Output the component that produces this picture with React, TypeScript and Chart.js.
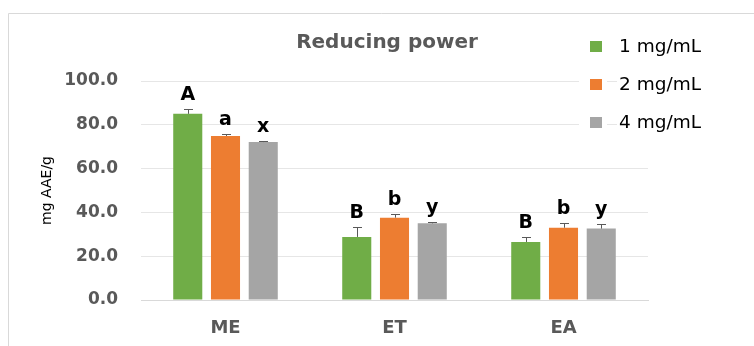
import React, { useEffect, useRef } from "react";
import { Chart, registerables } from "chart.js";

Chart.register(...registerables);

// Extract groups on the x axis
const categories = ["ME", "ET", "EA"];

// One series per concentration
const seriesLabels = ["1 mg/mL", "2 mg/mL", "4 mg/mL"];
const seriesColors = ["#70AD47", "#ED7D31", "#A5A5A5"];

// Reducing power, mg AAE/g
const values1 = [85.0, 28.8, 26.5];
const values2 = [74.9, 37.6, 33.0];
const values4 = [72.1, 35.0, 32.6];

// Standard deviations (upper error bars)
const errors1 = [2.2, 4.4, 2.1];
const errors2 = [0.7, 1.6, 2.3];
const errors4 = [0.5, 0.6, 2.1];

// Significance letters above each bar
const letters1 = ["A", "B", "B"];
const letters2 = ["a", "b", "b"];
const letters4 = ["x", "y", "y"];

// Value axis ticks
const yTicks = [0, 20, 40, 60, 80, 100];

const FONT = '"DejaVu Sans", sans-serif';

// Light frame along the top and left edge of the figure
const framePlugin = {
  id: "frame",
  beforeDraw(chart: any) {
    const { ctx, width, height } = chart;
    ctx.save();
    ctx.fillStyle = "#ffffff";
    ctx.fillRect(0, 0, width, height);
    ctx.strokeStyle = "#D9D9D9";
    ctx.lineWidth = 1;
    ctx.beginPath();
    ctx.moveTo(8.5, height);
    ctx.lineTo(8.5, 13.5);
    ctx.lineTo(width, 13.5);
    ctx.stroke();
    ctx.restore();
  },
};

// Upper error bars and significance letters
const errorBarPlugin = {
  id: "errorBars",
  afterDatasetsDraw(chart: any) {
    const { ctx } = chart;
    const yScale = chart.scales.y;
    ctx.save();
    chart.data.datasets.forEach((ds: any, i: number) => {
      const meta = chart.getDatasetMeta(i);
      meta.data.forEach((bar: any, j: number) => {
        const v = ds.data[j];
        const e = ds.errors[j];
        const x = Math.round(bar.x) + 0.5;
        const yBar = yScale.getPixelForValue(v);
        const yTop = Math.round(yScale.getPixelForValue(v + e)) + 0.5;
        ctx.strokeStyle = "#595959";
        ctx.lineWidth = 1;
        ctx.beginPath();
        ctx.moveTo(x, yBar);
        ctx.lineTo(x, yTop);
        ctx.moveTo(x - 4.5, yTop);
        ctx.lineTo(x + 4.5, yTop);
        ctx.stroke();
        ctx.fillStyle = "#000000";
        ctx.font = `bold 19px ${FONT}`;
        ctx.textAlign = "center";
        ctx.textBaseline = "alphabetic";
        ctx.fillText(ds.letters[j], bar.x, yTop - 9.5);
      });
    });
    ctx.restore();
  },
};

// Legend stacked at the upper right, over the plot area
const legendPlugin = {
  id: "sideLegend",
  afterDraw(chart: any) {
    const { ctx } = chart;
    ctx.save();
    chart.data.datasets.forEach((ds: any, i: number) => {
      const cy = 46.5 + i * 38;
      ctx.fillStyle = "#ffffff";
      ctx.fillRect(579, cy - 14, 28, 28);
      ctx.fillRect(617, cy - 14, 137, 28);
      ctx.fillStyle = ds.backgroundColor;
      ctx.fillRect(590, cy - 5.5, 12, 11);
      ctx.fillStyle = "#000000";
      ctx.font = `18.5px ${FONT}`;
      ctx.textAlign = "left";
      ctx.textBaseline = "middle";
      ctx.fillText(ds.label, 619, cy + 1);
    });
    ctx.restore();
  },
};

export default function App() {
  const canvasRef = useRef<HTMLCanvasElement | null>(null);

  useEffect(() => {
    const canvas = canvasRef.current;
    if (!canvas) return;
    const valueSets = [values1, values2, values4];
    const errorSets = [errors1, errors2, errors4];
    const letterSets = [letters1, letters2, letters4];

    const chart = new Chart(canvas, {
      type: "bar",
      data: {
        labels: categories,
        datasets: seriesLabels.map((label, i) => ({
          label,
          data: valueSets[i],
          errors: errorSets[i],
          letters: letterSets[i],
          backgroundColor: seriesColors[i],
          borderWidth: 0,
          categoryPercentage: 0.67,
          barPercentage: 0.77,
        })) as any,
      },
      options: {
        responsive: false,
        animation: false,
        layout: { padding: { left: 20, right: 0, top: 0, bottom: 0 } },
        plugins: {
          legend: { display: false },
          tooltip: { enabled: false },
          title: {
            display: true,
            text: "Reducing power",
            color: "#595959",
            font: { family: FONT, size: 20, weight: "bold" },
            padding: { top: 31, bottom: 26 },
          },
        },
        scales: {
          x: {
            grid: { display: false, drawTicks: false },
            border: { display: true, color: "#D9D9D9", width: 1 },
            ticks: {
              color: "#595959",
              font: { family: FONT, size: 18, weight: "bold" },
              padding: 18,
            },
            afterFit(scale: any) {
              scale.height = 46;
            },
          },
          y: {
            min: 0,
            max: 100,
            afterBuildTicks(scale: any) {
              scale.ticks = yTicks.map((v) => ({ value: v }));
            },
            grid: { color: "#E6E6E6", lineWidth: 1, drawTicks: false },
            border: { display: false },
            ticks: {
              color: "#595959",
              font: { family: FONT, size: 17, weight: "bold" },
              padding: 23,
              callback: (v: any) => Number(v).toFixed(1),
            },
            title: {
              display: true,
              text: "mg AAE/g",
              color: "#000000",
              font: { family: FONT, size: 14 },
              padding: { top: 19, bottom: 0 },
            },
            afterFit(scale: any) {
              scale.width = 121;
            },
          },
          yRight: {
            position: "right",
            display: true,
            grid: { display: false, drawTicks: false },
            border: { display: false },
            ticks: { display: false },
            afterFit(scale: any) {
              scale.width = 106;
            },
          },
        },
      } as any,
      plugins: [framePlugin, errorBarPlugin, legendPlugin],
    });

    return () => chart.destroy();
  }, []);

  return (
    <div
      style={{
        position: "fixed",
        left: 0,
        top: 0,
        width: 754,
        height: 346,
        background: "#ffffff",
      }}
    >
      <canvas ref={canvasRef} width={754} height={346} style={{ display: "block" }} />
    </div>
  );
}
